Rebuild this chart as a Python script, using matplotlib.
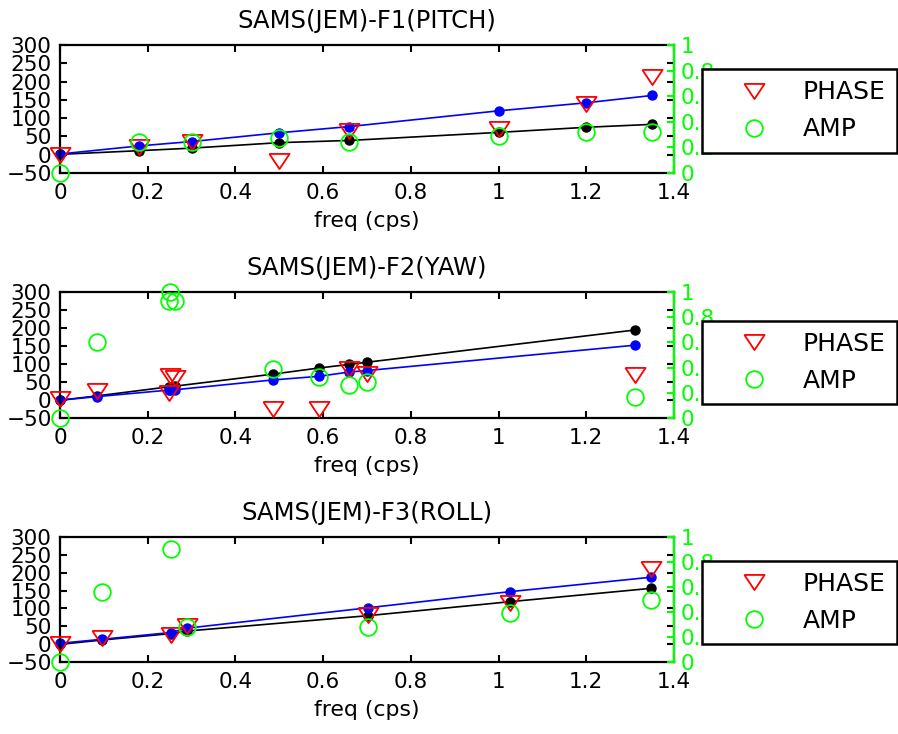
import numpy as np
import matplotlib
matplotlib.use('Agg')
import matplotlib.pyplot as plt
from matplotlib.lines import Line2D

GREEN = '#00ff00'
# slightly wide down-pointing triangle, like the reference marker
TRI = [(-1.33, 1), (1.33, 1), (0, -1), (-1.33, 1)]

titles = ['SAMS(JEM)-F1(PITCH)', 'SAMS(JEM)-F2(YAW)', 'SAMS(JEM)-F3(ROLL)']

# F1 pitch
freq1 = [0, 0.18, 0.30, 0.50, 0.66, 1.00, 1.20, 1.35]
black1 = [1, 11, 18, 33, 39, 61, 75, 83]
blue1 = [2, 24, 36, 60, 77, 120, 142, 162]
phase1 = [0, 21, 36, -16, 66, 70, 138, 213]
amp1 = [0.0, 0.24, 0.24, 0.27, 0.24, 0.29, 0.32, 0.32]

# F2 yaw
freq2 = [0, 0.085, 0.248, 0.25, 0.263, 0.485, 0.59, 0.66, 0.70, 1.31]
black2 = [0, 12, 37, 37, 39, 72, 89, 99, 105, 194]
blue2 = [0, 10, 28, 28, 29, 56, 66, 78, 82, 152]
phase2 = [2, 26, 20, 68, 62, -23, -23, 85, 73, 69]
amp2 = [0.0, 0.6, 0.93, 1.0, 0.93, 0.39, 0.33, 0.26, 0.29, 0.17]

# F3 roll
freq3 = [0, 0.095, 0.253, 0.289, 0.703, 1.027, 1.347]
black3 = [0, 12, 30, 37, 80, 119, 156]
blue3 = [3, 14, 33, 45, 102, 147, 187]
phase3 = [1, 18, 27, 52, 83, 116, 209]
amp3 = [0.0, 0.563, 0.9, 0.28, 0.28, 0.39, 0.5]

panels = [
    (freq1, black1, blue1, phase1, amp1),
    (freq2, black2, blue2, phase2, amp2),
    (freq3, black3, blue3, phase3, amp3),
]

W, H = 898, 734
fig = plt.figure(figsize=(W / 100, H / 100), dpi=100)

# axes boxes in pixels: (top, bottom)
boxes = [(45, 173), (291.7, 418.3), (536.7, 662.3)]
legend_tops = [69, 320.7, 560.7]
left_px, right_px = 60, 674

for i, (freq, blk, blu, ph, amp) in enumerate(panels):
    top, bot = boxes[i]
    ax = fig.add_axes([left_px / W, 1 - bot / H, (right_px - left_px) / W, (bot - top) / H])
    ax2 = ax.twinx()

    ax.plot(freq, blk, '-o', color='black', lw=1.2, ms=6.5, zorder=2, clip_on=False)
    ax.plot(freq, blu, '-o', color='blue', lw=1.2, ms=6.5, zorder=2, clip_on=False)
    ax.plot(freq, ph, ls='none', marker=TRI, mfc='none', mec='red', mew=1.3, ms=14.5,
            zorder=3, clip_on=False)
    ax2.plot(freq, amp, 'o', mfc='none', mec=GREEN, mew=1.3, ms=12, clip_on=False)

    ax.set_xlim(0, 1.4)
    ax.set_ylim(-50, 300)
    ax.set_xticks(np.arange(0, 1.41, 0.2))
    ax.set_xticklabels(['0', '0.2', '0.4', '0.6', '0.8', '1', '1.2', '1.4'])
    ax.set_yticks(np.arange(-50, 301, 50))
    ax.tick_params(direction='in', top=True, right=True, length=5, width=1.5,
                   labelsize=15.5, colors='black')
    ax.tick_params(axis='y', pad=6)
    ax.tick_params(axis='x', pad=7)
    for s in ax.spines.values():
        s.set_linewidth(1.6)

    ax2.set_ylim(0, 1)
    ax2.set_yticks(np.arange(0, 1.01, 0.2))
    ax2.set_yticklabels(['0', '0.2', '0.4', '0.6', '0.8', '1'])
    ax2.tick_params(axis='y', direction='in', length=5, width=1.5, colors=GREEN,
                    labelsize=15.5, pad=5)
    for k in ['left', 'top', 'bottom']:
        ax2.spines[k].set_visible(False)
    ax2.spines['right'].set_color(GREEN)
    ax2.spines['right'].set_linewidth(1.6)

    ax.set_title(titles[i], fontsize=17.5, pad=12)
    ax.set_xlabel('freq (cps)', fontsize=15.8, labelpad=6)

    handles = [
        Line2D([], [], ls='none', marker=TRI, mfc='none', mec='red', mew=1.3, ms=14.5),
        Line2D([], [], ls='none', marker='o', mfc='none', mec=GREEN, mew=1.3, ms=12),
    ]
    leg = fig.legend(handles, ['PHASE', 'AMP'], loc='upper left',
                     bbox_to_anchor=(701.7 / W, 1 - legend_tops[i] / H),
                     fontsize=18, frameon=True, fancybox=False, framealpha=1,
                     edgecolor='black', borderpad=0.45, labelspacing=0.53,
                     handlelength=3.3, handletextpad=0.3, borderaxespad=0)
    leg.get_frame().set_linewidth(1.8)

fig.savefig('out.png', dpi=100)
